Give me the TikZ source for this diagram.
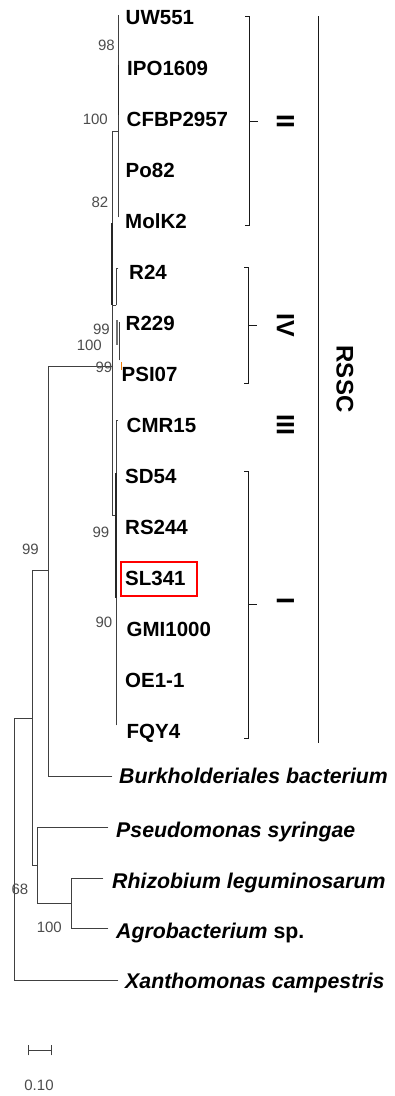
\documentclass[tikz,border=0pt]{standalone}
\usepackage{fontspec}
\setmainfont{Liberation Sans}
\usetikzlibrary{calc}
\begin{document}
\begin{tikzpicture}[x=1pt,y=-1pt,
  br/.style={draw=black!75, line width=0.9pt, line cap=rect},
  thickbr/.style={draw=black!85, line width=1.9pt},
  tip/.style={anchor=base west, inner sep=0pt, font=\fontsize{20.5}{22}\selectfont\bfseries},
  og/.style={anchor=base west, inner sep=0pt, font=\fontsize{21.3}{23}\selectfont\bfseries\itshape},
  bs/.style={anchor=east, inner sep=0pt, text=black!70, font=\fontsize{15}{16}\selectfont},
  clade/.style={draw=black!90, line width=0.9pt},
  roman/.style={rotate=-90, inner sep=0pt, font=\fontsize{25}{26}\selectfont\bfseries},
  redbox/.style={draw=red, line width=1.3pt, minimum width=76pt, minimum height=34pt, inner sep=0pt},
]
\useasboundingbox (0,0) rectangle (394,1096);

% ---------------- tip labels (RSSC) ----------------
\node[tip] (UW551)   at (125.5,24.8)  {UW551};
\node[tip] (IPO1609) at (127,75.8)    {IPO1609};
\node[tip] (CFBP2957) at (126.5,126.8) {CFBP2957};
\node[tip] (Po82)    at (125.5,177.8) {Po82};
\node[tip] (MolK2)   at (125,228.8)   {MolK2};
\node[tip] (R24)     at (129,279.8)   {R24};
\node[tip] (R229)    at (125.5,330.8) {R229};
\node[tip] (PSI07)   at (121.5,381.8) {PSI07};
\node[tip] (CMR15)   at (126.5,432.8) {CMR15};
\node[tip] (SD54)    at (125,483.8)   {SD54};
\node[tip] (RS244)   at (125,534.8)   {RS244};
\node[tip] (SL341)   at (125,585.8)   {SL341};
\node[tip] (GMI1000) at (126.5,636.8) {GMI1000};
\node[tip] (OE11)    at (125,687.8)   {OE1-1};
\node[tip] (FQY4)    at (126.5,738.8) {FQY4};
\node[redbox] (slbox) at (159,579) {};

% ---------------- outgroup labels ----------------
\node[og] (Burk) at (119,783) {Burkholderiales bacterium};
\node[og] (Pseu) at (116,837.5) {Pseudomonas syringae};
\node[og] (Rhiz) at (112,888.5) {Rhizobium leguminosarum};
\node[og] (Agro) at (116,938.5) {Agrobacterium\textup{ sp.}};
\node[og] (Xant) at (125,988) {Xanthomonas campestris};

% ---------------- outgroup tree ----------------
\coordinate (roottop) at (14,718);
\coordinate (rootbot) at (14,980);
\coordinate (xan) at (118,980);
\coordinate (a) at (32,718);
\coordinate (atop) at (32,570);
\coordinate (abot) at (32,865);
\coordinate (bmid) at (48,570);
\coordinate (btop) at (48,366);
\coordinate (bbot) at (48,776);
\coordinate (bur) at (112,776);
\coordinate (rssc) at (112,366);
\coordinate (c) at (37,865);
\coordinate (ctop) at (37,827);
\coordinate (cbot) at (37,903);
\coordinate (pse) at (108,827);
\coordinate (d) at (71,903);
\coordinate (dtop) at (71,878);
\coordinate (dbot) at (71,928);
\coordinate (rhi) at (103,878);
\coordinate (agr) at (108,928);

\draw[br] (roottop) -- (rootbot);
\draw[br] (roottop) -- (a);
\draw[br] (atop) -- (abot);
\draw[br] (atop) -- (bmid);
\draw[br] (btop) -- (bbot);
\draw[br] (btop) -- (rssc);
\draw[br] (bbot) -- (bur);
\draw[br] (abot) -- (c);
\draw[br] (ctop) -- (cbot);
\draw[br] (ctop) -- (pse);
\draw[br] (cbot) -- (d);
\draw[br] (dtop) -- (dbot);
\draw[br] (dtop) -- (rhi);
\draw[br] (dbot) -- (agr);
\draw[br] (rootbot) -- (xan);

% ---------------- RSSC tree ----------------
\coordinate (rtop) at (112,131);
\coordinate (rbot) at (112,515);
\coordinate (g2) at (118.5,131);
\coordinate (g2top) at (118.5,15);
\coordinate (g2bot) at (118.5,217);
\coordinate (g2ta) at (118.5,65);
\coordinate (g2tb) at (118.5,115);
\coordinate (rta) at (112,223);
\coordinate (rtb) at (112,305);
\coordinate (g4) at (116,305);
\coordinate (g4top) at (116,268);
\coordinate (g4tip) at (118,268);
\coordinate (g5a) at (117,320);
\coordinate (g5b) at (117,345);
\coordinate (g6a) at (119,322);
\coordinate (g6b) at (119,360);
\coordinate (g7a) at (121.5,362);
\coordinate (g7b) at (121.5,370);
\coordinate (g1) at (116,515);
\coordinate (g1top) at (116,420);
\coordinate (g1tip) at (118,420);
\coordinate (g1bot) at (116,725);
\coordinate (g1ta) at (116,473);
\coordinate (g1tb) at (116,598);

\draw[br] (rtop) -- (rbot);
\draw[br] (rtop) -- (g2);
\draw[br] (g2top) -- (g2bot);
\draw[thickbr] (g2ta) -- (g2tb);
\draw[thickbr] (rta) -- (rtb);
\draw[br] (rtb) -- (g4);
\draw[br] (g4) -- (g4top) -- (g4tip);
\draw[thickbr, draw=black!55] (g5a) -- (g5b);
\draw[br] (g6a) -- (g6b);
\draw[line width=1.2pt, draw=orange!80!brown] (g7a) -- (g7b);
\draw[br] (rbot) -- (g1);
\draw[br] (g1tip) -- (g1top) -- (g1bot);
\draw[thickbr] (g1ta) -- (g1tb);

% ---------------- bootstrap values ----------------
\node[bs] (bs1) at (115,45) {98};
\node[bs] (bs2) at (108,119) {100};
\node[bs] (bs3) at (108.5,202) {82};
\node[bs] (bs4) at (110,329) {99};
\node[bs] (bs5) at (102,345) {100};
\node[bs] (bs6) at (112.5,367) {99};
\node[bs] (bs7) at (109.5,532) {99};
\node[bs] (bs8) at (39,549) {99};
\node[bs] (bs9) at (112.5,622) {90};
\node[bs] (bs10) at (28.5,889) {68};
\node[bs] (bs11) at (62,927) {100};

% ---------------- clade brackets ----------------
\coordinate (IIa) at (245,16);   \coordinate (IIb) at (249,16);
\coordinate (IIc) at (249,225);  \coordinate (IId) at (245,225);
\coordinate (IIm) at (249,121);  \coordinate (IIn) at (258,121);
\draw[clade] (IIa) -- (IIb) -- (IIc) -- (IId);
\draw[clade] (IIm) -- (IIn);
\node[roman] (labII) at (285.5,121) {II};

\coordinate (IVa) at (244,267);  \coordinate (IVb) at (248,267);
\coordinate (IVc) at (248,383);  \coordinate (IVd) at (244,383);
\coordinate (IVm) at (248,325);  \coordinate (IVn) at (257,325);
\draw[clade] (IVa) -- (IVb) -- (IVc) -- (IVd);
\draw[clade] (IVm) -- (IVn);
\node[roman] (labIV) at (285.5,325) {IV};

\node[roman] (labIII) at (285.5,425) {III};

\coordinate (Ia) at (244,471);  \coordinate (Ib) at (248,471);
\coordinate (Ic) at (248,738);  \coordinate (Id) at (244,738);
\coordinate (Im) at (248,604);  \coordinate (In) at (257,604);
\draw[clade] (Ia) -- (Ib) -- (Ic) -- (Id);
\draw[clade] (Im) -- (In);
\node[roman] (labI) at (285.5,601) {I};

\coordinate (Ra) at (318,16);  \coordinate (Rb) at (318,743);
\draw[clade] (Ra) -- (Rb);
\node[roman, font=\fontsize{24}{26}\selectfont\bfseries] (labRSSC) at (345,379) {RSSC};

% ---------------- scale bar ----------------
\coordinate (sa) at (28,1050); \coordinate (sb) at (51,1050);
\draw[br] (sa) -- (sb);
\draw[br] ($(sa)+(0,-5)$) -- ($(sa)+(0,5)$);
\draw[br] ($(sb)+(0,-5)$) -- ($(sb)+(0,5)$);
\node[inner sep=0pt, text=black!70, font=\fontsize{15}{16}\selectfont] (scl) at (39,1085) {0.10};
\end{tikzpicture}
\end{document}
